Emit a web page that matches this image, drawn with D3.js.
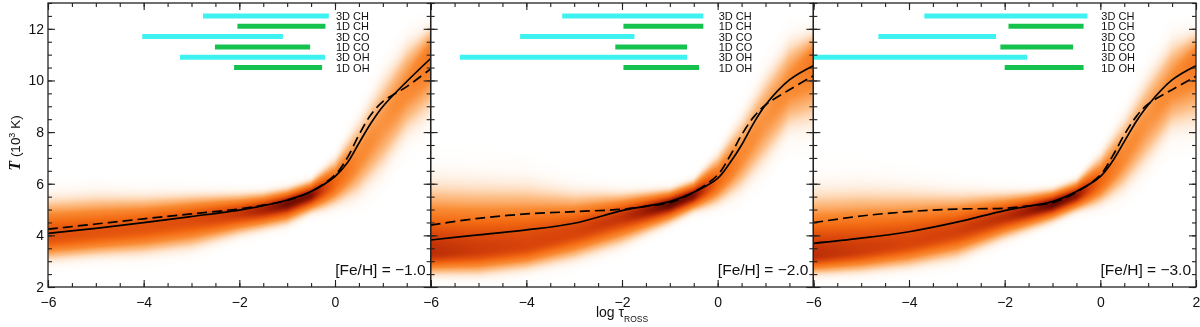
<!DOCTYPE html>
<html><head><meta charset="utf-8">
<script src="https://cdn.jsdelivr.net/npm/d3@7"></script>
<style>
html,body{margin:0;padding:0;background:#fff;}
#wrap{position:relative;width:1200px;height:327px;overflow:hidden;}
canvas,svg{position:absolute;left:0;top:0;}
text{font-family:"Liberation Sans",Arial,Helvetica,sans-serif;fill:#111;}
</style></head><body>
<div id="wrap"><canvas id="heat" width="1200" height="327"></canvas><svg id="chart" width="1200" height="327"></svg></div>
<script>
// ---------------- data ----------------
const panelLabels = ["[Fe/H] = \u22121.0", "[Fe/H] = \u22122.0", "[Fe/H] = \u22123.0"];
const xMajorTicks = [-6, -4, -2, 0, 2];
const yMajorTicks = [2, 4, 6, 8, 10, 12];

// mean temperature structures (10^3 K) at log tau_Ross
const curveTau = [-6, -5, -4, -3, -2, -1.5, -1, -0.5, 0, 0.25, 0.5, 0.75, 1, 1.5, 2];
const solidP1  = [4.08, 4.27, 4.49, 4.73, 4.98, 5.15, 5.37, 5.70, 6.28, 6.79, 7.57, 8.34, 8.99, 9.96, 10.85];
const dashedP1 = [4.24, 4.44, 4.64, 4.83, 5.02, 5.17, 5.35, 5.70, 6.34, 6.98, 7.89, 8.67, 9.18, 9.76, 10.45];
const solidP2  = [3.82, 4.02, 4.21, 4.47, 4.96, 5.13, 5.31, 5.67, 6.21, 6.79, 7.50, 8.34, 9.05, 10.02, 10.57];
const dashedP2 = [4.40, 4.66, 4.83, 4.92, 5.01, 5.12, 5.27, 5.67, 6.34, 7.05, 7.89, 8.58, 9.05, 9.64, 10.18];
const solidP3  = [3.69, 3.89, 4.14, 4.51, 4.96, 5.13, 5.31, 5.70, 6.28, 6.86, 7.63, 8.41, 9.05, 10.02, 10.57];
const dashedP3 = [4.49, 4.75, 4.92, 5.02, 5.05, 5.14, 5.27, 5.67, 6.34, 7.05, 7.89, 8.60, 9.09, 9.64, 10.16];

// 3D temperature distribution: centre, lower/upper spread, peak density
const densTau = [-6, -5, -4, -3, -2, -1.5, -1, -0.5, 0, 0.5, 1, 1.5, 2];
const densCenterP1 = [3.95, 4.1, 4.3, 4.6, 4.85, 5.0, 5.22, 5.55, 6.05, 7.0, 8.3, 9.7, 11.0];
const densLowP1    = [0.45, 0.45, 0.5, 0.53, 0.4, 0.37, 0.37, 0.32, 0.45, 0.75, 0.95, 0.95, 1.15];
const densUpP1     = [0.72, 0.7, 0.6, 0.48, 0.37, 0.32, 0.29, 0.28, 0.45, 0.75, 0.95, 0.9, 0.55];
const densPeakP1   = [0.62, 0.6, 0.6, 0.64, 0.74, 0.85, 0.97, 0.95, 0.5, 0.3, 0.26, 0.3, 0.4];

const densCenterP2 = [3.3, 3.4, 3.6, 4.1, 4.7, 4.95, 5.2, 5.55, 6.1, 7.1, 8.5, 9.8, 10.8];
const densLowP2    = [0.4, 0.45, 0.45, 0.5, 0.5, 0.42, 0.35, 0.3, 0.45, 0.7, 0.9, 0.9, 1.25];
const densUpP2     = [1.26, 1.2, 1.1, 0.75, 0.45, 0.36, 0.28, 0.28, 0.5, 0.75, 0.9, 0.9, 0.55];
const densPeakP2   = [0.78, 0.72, 0.68, 0.68, 0.76, 0.88, 1.0, 0.95, 0.5, 0.3, 0.26, 0.3, 0.4];

const densCenterP3 = [3.2, 3.4, 3.7, 4.15, 4.7, 4.95, 5.2, 5.55, 6.1, 7.1, 8.5, 9.8, 10.8];
const densLowP3    = [0.35, 0.4, 0.45, 0.5, 0.4, 0.36, 0.32, 0.3, 0.45, 0.7, 0.9, 0.9, 1.25];
const densUpP3     = [1.15, 1.1, 0.95, 0.7, 0.45, 0.35, 0.28, 0.28, 0.5, 0.75, 0.9, 0.9, 0.55];
const densPeakP3   = [0.78, 0.72, 0.68, 0.7, 0.78, 0.88, 1.0, 0.92, 0.5, 0.3, 0.26, 0.3, 0.4];

// line-formation ranges (log tau) for molecules
const molecules = ["3D CH", "1D CH", "3D CO", "1D CO", "3D OH", "1D OH"];
const moleculeKind = ["3D", "1D", "3D", "1D", "3D", "1D"];
const legendT = [12.5, 12.1, 11.7, 11.3, 10.9, 10.5];
const rangeStartP1 = [-2.76, -2.04, -4.03, -2.51, -3.24, -2.11];
const rangeEndP1   = [-0.13, -0.20, -1.09, -0.52, -0.21, -0.27];
const rangeStartP2 = [-3.25, -1.97, -4.13, -2.14, -5.39, -1.97];
const rangeEndP2   = [-0.30, -0.30, -1.74, -0.64, -0.64, -0.39];
const rangeStartP3 = [-3.68, -1.92, -4.64, -2.09, -6.00, -2.00];
const rangeEndP3   = [-0.27, -0.35, -2.18, -0.57, -1.53, -0.35];

// ---------------- layout ----------------
const plotLeft = 48, plotRight = 1196, plotTop = 3, plotBottom = 287;
const panelW = (plotRight - plotLeft) / 3;
const panels = [
  {label: panelLabels[0], solid: solidP1, dashed: dashedP1, c: densCenterP1, lo: densLowP1, up: densUpP1, pk: densPeakP1, rs: rangeStartP1, re: rangeEndP1},
  {label: panelLabels[1], solid: solidP2, dashed: dashedP2, c: densCenterP2, lo: densLowP2, up: densUpP2, pk: densPeakP2, rs: rangeStartP2, re: rangeEndP2},
  {label: panelLabels[2], solid: solidP3, dashed: dashedP3, c: densCenterP3, lo: densLowP3, up: densUpP3, pk: densPeakP3, rs: rangeStartP3, re: rangeEndP3}
];

const y = d3.scaleLinear().domain([2, 13]).range([plotBottom, plotTop]);
const color = d3.scaleLinear()
  .domain([0, 0.04, 0.13, 0.28, 0.48, 0.68, 0.85, 1])
  .range(["#ffffff", "#feecdc", "#fdc08a", "#f98d36", "#f36a12", "#d8440a", "#a82004", "#600800"])
  .clamp(true);

const svg = d3.select("#chart");
const ctx = document.getElementById("heat").getContext("2d");
const img = ctx.createImageData(1200, 327);
for (let i = 0; i < img.data.length; i += 4) { img.data[i] = 255; img.data[i+1] = 255; img.data[i+2] = 255; img.data[i+3] = 255; }

panels.forEach((p, i) => {
  const x0 = plotLeft + i * panelW, x1 = x0 + panelW;
  const x = d3.scaleLinear().domain([-6, 2]).range([x0, x1]);
  const cS = d3.scaleLinear().domain(densTau).range(p.c).clamp(true);
  const lS = d3.scaleLinear().domain(densTau).range(p.lo).clamp(true);
  const uS = d3.scaleLinear().domain(densTau).range(p.up).clamp(true);
  const aS = d3.scaleLinear().domain(densTau).range(p.pk).clamp(true);
  // heat map cells (1 px) through the scales
  for (let px = Math.floor(x0); px < Math.ceil(x1); px++) {
    const tau = x.invert(px + 0.5);
    const c = cS(tau), lo = lS(tau), up = uS(tau), a = aS(tau);
    for (let py = plotTop; py < plotBottom; py++) {
      const T = y.invert(py + 0.5);
      const z = (T - c) / (T >= c ? up : lo);
      const v = a * Math.exp(-0.5 * Math.pow(Math.abs(z), 2.2));
      const col = d3.rgb(color(v));
      const k = (py * 1200 + px) * 4;
      img.data[k] = col.r; img.data[k+1] = col.g; img.data[k+2] = col.b;
    }
  }

  const g = svg.append("g");
  const clipId = "clip" + i;
  svg.append("clipPath").attr("id", clipId).append("rect")
    .attr("x", x0).attr("y", plotTop).attr("width", panelW).attr("height", plotBottom - plotTop);
  const gc = g.append("g").attr("clip-path", `url(#${clipId})`);

  // molecule bars
  molecules.forEach((m, j) => {
    gc.append("line")
      .attr("x1", x(p.rs[j])).attr("x2", x(p.re[j]))
      .attr("y1", y(legendT[j])).attr("y2", y(legendT[j]))
      .attr("stroke", moleculeKind[j] === "3D" ? "#3ff2f2" : "#16c24e")
      .attr("stroke-width", 5);
    g.append("text")
      .attr("x", x(0) + 1).attr("y", y(legendT[j])).attr("dy", "0.36em")
      .style("font-size", "11px")
      .text(m);
  });

  // curves
  const line = d3.line().x((d, k) => x(curveTau[k])).y(d => y(d)).curve(d3.curveCatmullRom.alpha(0.5));
  gc.append("path").attr("d", line(p.dashed)).attr("fill", "none")
    .attr("stroke", "#000").attr("stroke-width", 1.7).attr("stroke-dasharray", "10,5");
  gc.append("path").attr("d", line(p.solid)).attr("fill", "none")
    .attr("stroke", "#000").attr("stroke-width", 1.7);

  // axes
  const minorX = d3.range(-6, 2.01, 0.5);
  const minorY = d3.range(2, 13.01, 0.5);
  const isLast = i === 2;
  const xLabelTicks = isLast ? xMajorTicks : xMajorTicks.slice(0, 4);
  g.append("g").attr("transform", `translate(0,${plotBottom})`)
    .call(d3.axisBottom(x).tickValues(minorX).tickSize(-4).tickFormat(""));
  g.append("g").attr("transform", `translate(0,${plotBottom})`)
    .call(d3.axisBottom(x).tickValues(xMajorTicks).tickSizeInner(-7).tickSizeOuter(0).tickPadding(10)
      .tickFormat(d => xLabelTicks.includes(d) ? d3.format("d")(d).replace("-", "\u2212") : ""));
  g.append("g").attr("transform", `translate(0,${plotTop})`)
    .call(d3.axisTop(x).tickValues(minorX).tickSize(-4).tickFormat(""));
  g.append("g").attr("transform", `translate(0,${plotTop})`)
    .call(d3.axisTop(x).tickValues(xMajorTicks).tickSize(-7).tickFormat(""));
  g.append("g").attr("transform", `translate(${x0},0)`)
    .call(d3.axisLeft(y).tickValues(minorY).tickSize(-4).tickFormat(""));
  g.append("g").attr("transform", `translate(${x0},0)`)
    .call(d3.axisLeft(y).tickValues(yMajorTicks).tickSizeInner(-7).tickSizeOuter(0).tickPadding(4)
      .tickFormat(d => i === 0 ? d : ""));
  g.append("g").attr("transform", `translate(${x1},0)`)
    .call(d3.axisRight(y).tickValues(minorY).tickSize(-4).tickFormat(""));
  g.append("g").attr("transform", `translate(${x1},0)`)
    .call(d3.axisRight(y).tickValues(yMajorTicks).tickSize(-7).tickFormat(""));

  g.append("rect").attr("x", x0).attr("y", plotTop).attr("width", panelW).attr("height", plotBottom - plotTop)
    .attr("fill", "none").attr("stroke", "#222").attr("stroke-width", 1.3);

  g.append("text").attr("x", x1 - 5).attr("y", 275).attr("text-anchor", "end")
    .style("font-size", "15.5px").text(p.label);
});
ctx.putImageData(img, 0, 0);

svg.selectAll(".domain").remove();
svg.selectAll(".tick line").attr("stroke", "#222").attr("stroke-width", 1.1);
svg.selectAll(".tick text").style("font-size", "14px").style("font-family", '"Liberation Sans",Arial,sans-serif').attr("fill", "#111");

// axis titles
const xt = svg.append("text").attr("x", plotLeft + 1.5 * panelW).attr("y", 317).attr("text-anchor", "middle")
  .style("font-size", "14px");
xt.append("tspan").text("log \u03c4");
xt.append("tspan").attr("dy", 5).style("font-size", "8.5px").text("ROSS");

const yt = svg.append("text").attr("transform", "translate(20,143) rotate(-90)").attr("text-anchor", "middle")
  .style("font-size", "13.5px");
yt.append("tspan").style("font-family", '"Liberation Serif","DejaVu Serif",serif').style("font-weight", "bold")
  .style("font-style", "italic").style("font-size", "16px").text("T");
yt.append("tspan").text(" (10");
yt.append("tspan").attr("dy", -5).style("font-size", "9px").text("3");
yt.append("tspan").attr("dy", 5).text(" K)");
</script>
</body></html>
